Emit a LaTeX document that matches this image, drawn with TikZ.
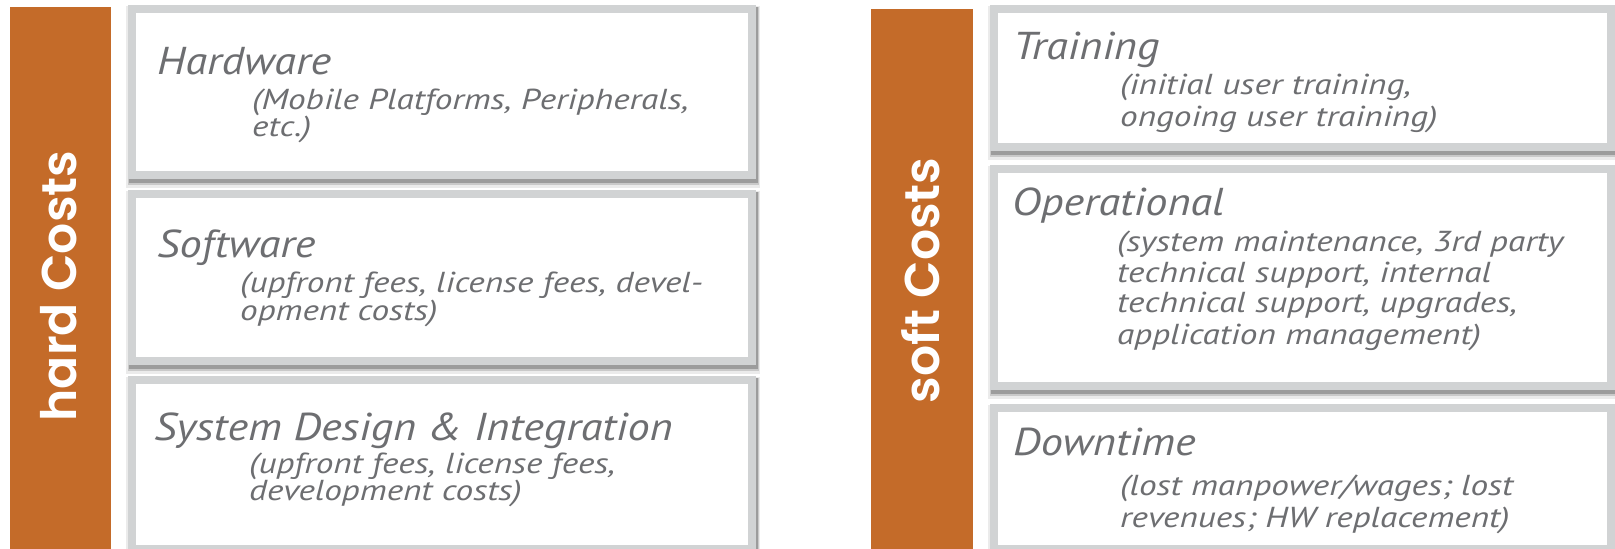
\documentclass[tikz,border=0pt]{standalone}
\usepackage{fontspec}
\setmainfont{PT Sans}
\newfontfamily\popfont{Poppins SemiBold}
\newfontfamily\ttlfont{PT Sans}[FakeStretch=1.14]
\newfontfamily\subfont{PT Sans}[FakeStretch=1.22]
\usetikzlibrary{fit}
\definecolor{orng}{RGB}{196,107,41}
\definecolor{framegray}{RGB}{209,211,212}
\definecolor{txtgray}{RGB}{109,110,113}
\tikzset{
  costbar/.style={fill=orng, draw=none, inner sep=0pt, outer sep=0pt},
  barlabel/.style={text=white, font=\popfont\fontsize{49}{49}\selectfont, rotate=90, inner sep=0pt},
  cbox/.style={fill=white, draw=framegray, line width=8bp, inner sep=0pt, outer sep=0pt},
  ttl/.style={text=txtgray, font=\ttlfont\itshape\fontsize{39}{39}\selectfont, anchor=base west, inner sep=0pt},
  subt/.style={text=txtgray, font=\subfont\itshape\fontsize{29}{29}\selectfont, anchor=base west, inner sep=0pt},
}
% #1 name, #2 x1, #3 y1, #4 x2, #5 y2 (outer edges, px)
\newcommand\costbox[5]{%
  \fill[black,opacity=.08] (#2-2,#3+1) rectangle (#4+4,#5+9);
  \fill[black,opacity=.14] (#2,#3+2) rectangle (#4+3,#5+6);
  \fill[black,opacity=.22] (#2+1,#3+2) rectangle (#4+2,#5+4);
  \node[cbox, fit={(#2+4,#3+4) (#4-4,#5-4)}] (#1) {};
}
\begin{document}
\begin{tikzpicture}[x=1bp, y=-1bp]
\useasboundingbox (0,0) rectangle (1615,549);
\clip (0,0) rectangle (1615,549);
\fill[white] (0,0) rectangle (1615,549);

% left column
\node[costbar, fit={(10,7) (111,560)}] (hardbar) {};
\node[barlabel] (hardlbl) at (58.5,286) {hard Costs};

\costbox{hw}{128}{5}{756}{179}
\costbox{sw}{128}{190}{756}{365}
\costbox{sd}{128}{376}{756}{553}

\node[ttl] (hwt) at (157,75) {Hardware};
\node[subt] (hws1) at (252,110) {(Mobile Platforms, Peripherals,};
\node[subt] (hws2) at (252,137) {etc.)};

\node[ttl] (swt) at (157,258) {Software};
\node[subt] (sws1) at (240,293) {(upfront fees, license fees, devel-};
\node[subt] (sws2) at (240,321) {opment costs)};

\node[ttl] (sdt) at (154,440) {System Design \& Integration};
\node[subt] (sds1) at (249,473) {(upfront fees, license fees,};
\node[subt] (sds2) at (249,500) {development costs)};

% right column
\node[costbar, fit={(871,9) (973,560)}] (softbar) {};
\node[barlabel] (softlbl) at (920.5,280.5) {soft Costs};

\costbox{tr}{990}{5}{1615}{151}
\costbox{op}{990}{165}{1615}{390}
\costbox{dt}{990}{404}{1615}{553}

\node[ttl] (trt) at (1013,60) {Training};
\node[subt] (trs1) at (1120,95) {(initial user training,};
\node[subt] (trs2) at (1120,127) {ongoing user training)};

\node[ttl] (opt) at (1012,216) {Operational};
\node[subt] (ops1) at (1117,252) {(system maintenance, 3rd party};
\node[subt] (ops2) at (1117,283) {technical support, internal};
\node[subt] (ops3) at (1117,313) {technical support, upgrades,};
\node[subt] (ops4) at (1117,344) {application management)};

\node[ttl] (dtt) at (1013,455) {Downtime};
\node[subt] (dts1) at (1120,495) {(lost manpower/wages; lost};
\node[subt] (dts2) at (1120,527) {revenues; HW replacement)};
\end{tikzpicture}
\end{document}
